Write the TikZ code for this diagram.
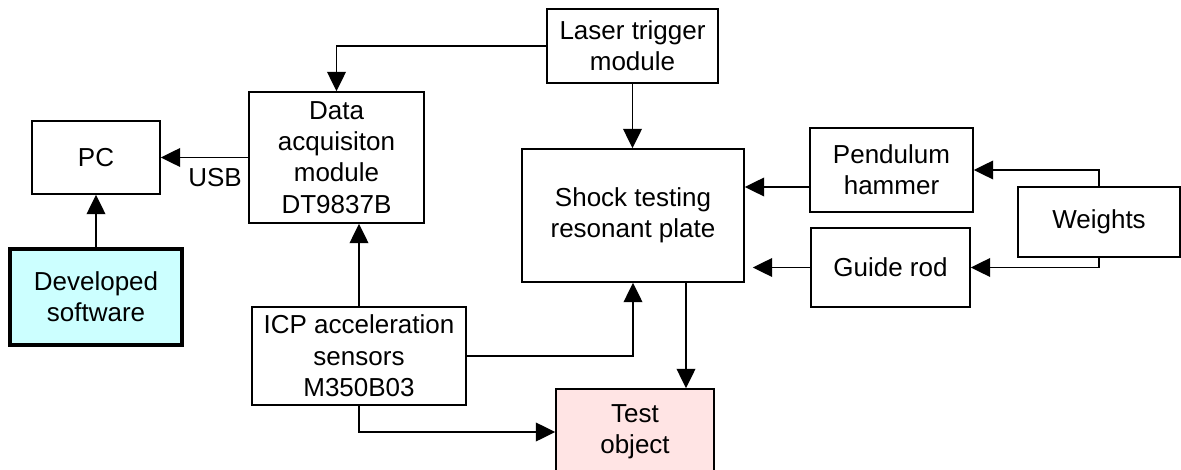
\documentclass[tikz,border=0pt]{standalone}
\usepackage{fontspec}
\setmainfont{Liberation Sans}
\usetikzlibrary{arrows.meta,calc}
\definecolor{softcyan}{RGB}{204,255,255}
\definecolor{testpink}{RGB}{255,228,228}

\begin{document}
\begin{tikzpicture}[x=0.75pt,y=-0.75pt,
    box/.style={draw,line width=1.2pt,align=center,inner sep=0pt,
        font=\fontsize{19.5}{23.5}\selectfont},
    arr/.style={line width=1.2pt,-{Triangle[length=14.5pt,width=14pt]}}]

% Page frame
\clip (0,0) rectangle (1181,470);

% Computer side
\node[box,minimum width=96pt,minimum height=54.75pt] (pc) at (96,157.5) {PC};
\node[box,fill=softcyan,line width=3pt,minimum width=129pt,minimum height=72pt] (soft) at (96,297) {Developed\\software};
\node[box,minimum width=131.25pt,minimum height=98.25pt] (daq) at (336.5,157.5) {Data\\acquisiton\\module\\DT9837B};
\node[box,minimum width=160.5pt,minimum height=73.5pt] (icp) at (359,356) {ICP acceleration\\sensors\\M350B03};

% Shock rig
\node[box,minimum width=128.25pt,minimum height=55.5pt] (laser) at (632.5,46) {Laser trigger\\module};
\node[box,minimum width=166.5pt,minimum height=99.75pt] (plate) at (633,215.5) {Shock testing\\resonant plate};
\node[box,fill=testpink,minimum width=118.5pt,minimum height=64.5pt] (test) at (635,432) {Test\\object};
\node[box,minimum width=122.25pt,minimum height=63pt] (hammer) at (891.5,170) {Pendulum\\hammer};
\node[box,minimum width=119.25pt,minimum height=59.25pt] (guide) at (890.5,267.5) {Guide rod};
\node[box,line width=1.7pt,minimum width=121.5pt,minimum height=52.5pt] (weights) at (1099,222) {Weights};

% Label
\node[font=\fontsize{19.5}{23.5}\selectfont] (usb) at (215,178) {USB};

% Data path
\draw[arr] (daq.west) -- (pc.east);
\draw[arr] (soft.north) -- (pc.south);
\draw[arr] (laser.west) -| (daq.north);
\draw[arr] (icp.north) -- (icp.north |- daq.south);

% Trigger and sensors
\draw[arr] (laser.south) -- (laser.south |- plate.north);
\draw[arr] (icp.east) -| (plate.south);
\draw[arr] (icp.south) |- (test.west);
\coordinate (drop) at ($(plate.south)+(53,0)$);
\draw[arr] (drop) -- (drop |- test.north);

% Impact chain
\coordinate (hit) at ($(hammer.west)+(0,17)$);
\draw[arr] (hit) -- (hit -| plate.east);
\draw[arr,shorten >=6pt] (guide.west) -- (guide.west -| plate.east);
\draw[arr] (weights.north) |- (hammer.east);
\draw[arr] (weights.south) |- (guide.east);

\end{tikzpicture}
\end{document}
